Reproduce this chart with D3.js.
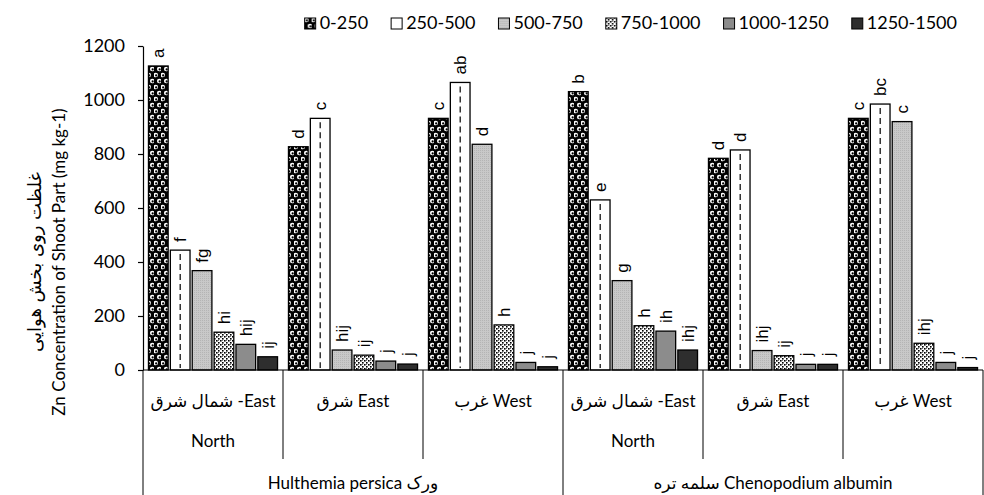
<!DOCTYPE html>
<html><head><meta charset="utf-8">
<script src="https://cdn.jsdelivr.net/npm/d3@7"></script>
<style>
body{margin:0;background:#fff}
svg{display:block}
text{font-family:Lato,'DejaVu Sans',sans-serif;fill:#000}
</style>
</head><body>
<svg id="c" width="984" height="495"></svg>
<script>
// ---- data ----
const groups = ["NE-H","E-H","W-H","NE-C","E-C","W-C"];
const series = ["0-250","250-500","500-750","750-1000","1000-1250","1250-1500"];
const v0250     = [1126, 827, 932, 1031, 784, 932];
const v250500   = [444, 932, 1065, 630, 815, 985];
const v500750   = [368, 74, 836, 331, 72, 920];
const v7501000  = [140, 55, 167, 164, 53, 99];
const v10001250 = [95, 33, 28, 144, 21, 28];
const v12501500 = [49, 22, 12, 74, 21, 9];
const l0250     = ["a","d","c","b","d","c"];
const l250500   = ["f","c","ab","e","d","bc"];
const l500750   = ["fg","hij","d","g","ihj","c"];
const l7501000  = ["hi","ij","h","h","ij","ihj"];
const l10001250 = ["hij","j","j","ih","j","j"];
const l12501500 = ["ij","j","j","ihj","j","j"];
const regionLine1 = ["شمال شرق -East","شرق East","غرب West","شمال شرق -East","شرق East","غرب West"];
const regionLine2 = ["North","","","North","",""];
const speciesLabels = ["Hulthemia persica ورک","سلمه تره  Chenopodium albumin"];
const yTicks = [0,200,400,600,800,1000,1200];
const yTitleEn = "Zn Concentration of  Shoot Part (mg kg-1)";
const yTitleFa = "غلظت روی بخش هوایی";

const values = [v0250, v250500, v500750, v7501000, v10001250, v12501500];
const letters = [l0250, l250500, l500750, l7501000, l10001250, l12501500];

// ---- setup ----
const svg = d3.select("#c");
const defs = svg.append("defs");

// pattern 0-250: black with white rings (checkerboard)
const p0 = defs.append("pattern").attr("id","p0").attr("patternUnits","userSpaceOnUse").attr("width",7).attr("height",12);
p0.append("rect").attr("width",7).attr("height",12).attr("fill","#000");
[[1.75,3],[5.25,9]].forEach(([cx,cy])=>{
  p0.append("circle").attr("cx",cx).attr("cy",cy).attr("r",2.3).attr("fill","#fff");
  p0.append("circle").attr("cx",cx+0.4).attr("cy",cy+0.4).attr("r",1.1).attr("fill","#000");
});
// pattern 750-1000: fine check
const p3 = defs.append("pattern").attr("id","p3").attr("patternUnits","userSpaceOnUse").attr("width",4).attr("height",4);
p3.append("rect").attr("width",4).attr("height",4).attr("fill","#fff");
p3.append("rect").attr("x",0).attr("y",0).attr("width",1.6).attr("height",1.6).attr("fill","#000");
p3.append("rect").attr("x",2).attr("y",2).attr("width",1.6).attr("height",1.6).attr("fill","#000");
p3.append("rect").attr("x",2).attr("y",0).attr("width",1).attr("height",1).attr("fill","#777");
// pattern 500-750: light gray stipple
const p2 = defs.append("pattern").attr("id","p2").attr("patternUnits","userSpaceOnUse").attr("width",2).attr("height",2);
p2.append("rect").attr("width",2).attr("height",2).attr("fill","#c8c8c8");
p2.append("rect").attr("width",1).attr("height",1).attr("fill","#b4b4b4");

const fills = ["url(#p0)","#ffffff","url(#p2)","url(#p3)","#8c8c8c","#2e2e2e"];

const x0 = d3.scaleBand().domain(groups).range([143, 983]).padding(0);
const x1 = d3.scaleBand().domain(series).range([0, x0.bandwidth()]).paddingInner(0.1).paddingOuter(0.25);
const y = d3.scaleLinear().domain([0,1200]).range([370, 46]);

// ---- bars ----
const gBars = svg.append("g");
series.forEach((s, si) => {
  groups.forEach((g, gi) => {
    const v = values[si][gi];
    const bx = x0(g) + x1(s);
    gBars.append("rect")
      .attr("x", bx).attr("y", y(v))
      .attr("width", x1.bandwidth()).attr("height", y(0) - y(v))
      .attr("fill", fills[si]).attr("stroke","#000").attr("stroke-width",1.3);
    if (si === 1) {
      gBars.append("line")
        .attr("x1", bx + x1.bandwidth()/2).attr("x2", bx + x1.bandwidth()/2)
        .attr("y1", y(v) + 4).attr("y2", y(0) - 2)
        .attr("stroke","#000").attr("stroke-width",1.2).attr("stroke-dasharray","6,4");
    }
    const cx = bx + x1.bandwidth()/2;
    gBars.append("text")
      .attr("transform", `translate(${cx + 6},${y(v) - 8}) rotate(-90)`)
      .attr("text-anchor","start")
      .style("font-family","'Liberation Sans',Arial,sans-serif")
      .style("font-size","17px")
      .text(letters[si][gi]);
  });
});

// ---- y axis ----
const yAxis = svg.append("g").attr("transform","translate(143,0)")
  .call(d3.axisLeft(y).tickValues(yTicks).tickFormat(d3.format("d")).tickSize(5).tickSizeOuter(0).tickPadding(13));
yAxis.selectAll("text").style("font-size","18px").style("font-family","Lato,sans-serif");
yAxis.selectAll("path,line").attr("stroke","#000").attr("stroke-width",1.2);

// ---- x axis ----
const gx = svg.append("g");
gx.append("line").attr("x1",143).attr("x2",983).attr("y1",y(0)).attr("y2",y(0)).attr("stroke","#000").attr("stroke-width",1.2);
groups.forEach((g, gi) => {
  const left = x0(g);
  const outer = (gi % 3 === 0);
  gx.append("line").attr("x1",left).attr("x2",left).attr("y1",y(0)).attr("y2", outer ? 495 : 459)
    .attr("stroke","#000").attr("stroke-width",1);
  const cx = left + x0.bandwidth()/2;
  gx.append("text").attr("x",cx).attr("y",407).attr("text-anchor","middle").style("font-size","17px").text(regionLine1[gi]);
  if (regionLine2[gi]) gx.append("text").attr("x",cx).attr("y",447).attr("text-anchor","middle").style("font-size","17px").text(regionLine2[gi]);
});
gx.append("line").attr("x1",983).attr("x2",983).attr("y1",y(0)).attr("y2",495).attr("stroke","#000").attr("stroke-width",1);
speciesLabels.forEach((t, i) => {
  const a = x0(groups[i*3]), b = x0(groups[i*3+2]) + x0.bandwidth();
  gx.append("text").attr("x",(a+b)/2).attr("y",489).attr("text-anchor","middle").style("font-size","17px").text(t);
});

// ---- y titles ----
svg.append("text").attr("transform","translate(65,262) rotate(-90)").attr("text-anchor","middle")
  .style("font-size","17px").text(yTitleEn);
svg.append("text").attr("transform","translate(41,262) rotate(-90)").attr("text-anchor","middle")
  .style("font-size","18px").style("font-family","'DejaVu Sans',sans-serif").text(yTitleFa);

// ---- legend (right aligned) ----
const lg = svg.append("g");
const items = series.map((s, i) => {
  const g = lg.append("g");
  g.append("rect").attr("x",0).attr("y",-11).attr("width",11).attr("height",11)
    .attr("fill", fills[i]).attr("stroke","#000").attr("stroke-width",1);
  const t = g.append("text").attr("x",15).attr("y",0).style("font-size","18px").text(s);
  return {g, w: 15 + t.node().getComputedTextLength()};
});
let total = items.reduce((a, it) => a + it.w, 0) + 23 * (items.length - 1);
let xpos = 957 - total;
items.forEach(it => { it.g.attr("transform", `translate(${xpos},29)`); xpos += it.w + 23; });
</script>
</body></html>
